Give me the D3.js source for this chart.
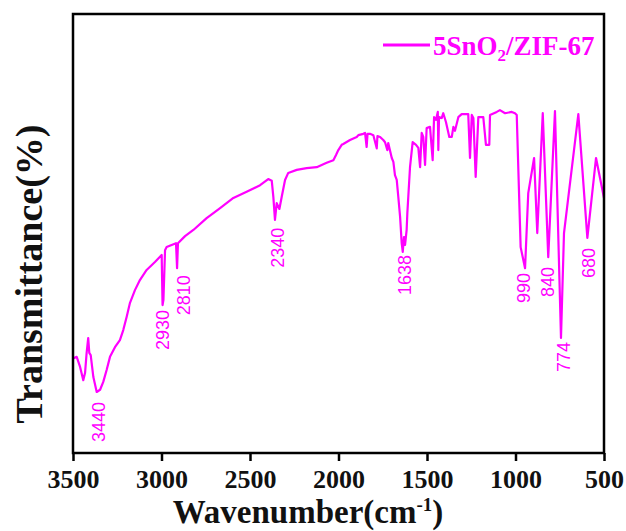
<!DOCTYPE html>
<html>
<head>
<meta charset="utf-8">
<script src="https://cdn.jsdelivr.net/npm/d3@7"></script>
<style>
  body { margin: 0; background: #fff; }
  svg { display: block; }
</style>
</head>
<body>
<svg id="chart" width="626" height="531"></svg>
<script>
// Spectrum (wavenumber, transmittance in arbitrary %)
const wavenumber = [3497, 3479, 3460, 3442, 3432, 3423, 3414, 3408, 3400, 3385, 3366, 3347, 3329, 3310, 3291,
    3263, 3235, 3216, 3197, 3178, 3150, 3122, 3084, 3037, 2999, 2994, 2989, 2980, 2971, 2918, 2912, 2907,
    2867, 2820, 2745, 2669, 2594, 2519, 2443, 2397, 2377, 2368, 2359, 2349, 2334, 2321, 2302, 2284, 2236,
    2180, 2123, 2067, 2029, 2014, 2001, 1982, 1973, 1935, 1897, 1888, 1860, 1850, 1841, 1836, 1822, 1803,
    1784, 1780, 1765, 1747, 1737, 1724, 1719, 1699, 1690, 1681, 1671, 1662, 1652, 1643, 1637, 1630, 1624,
    1615, 1611, 1596, 1581, 1562, 1549, 1539, 1530, 1521, 1511, 1502, 1483, 1468, 1460, 1449, 1439, 1436,
    1432, 1417, 1408, 1393, 1374, 1360, 1351, 1342, 1323, 1304, 1267, 1257, 1247, 1238, 1225, 1210, 1182,
    1167, 1148, 1144, 1106, 1088, 1059, 1021, 1003, 993, 971, 946, 928, 895, 877, 846, 815, 777, 743, 726,
    645, 594, 545, 500];
const transmittance = [21.6, 21.9, 19.6, 16.6, 18.2, 22.8, 26.2, 22.8, 22.3, 17.3, 13.9, 14.4, 16.2, 18.9, 21.9,
    24.1, 25.7, 28.0, 31.0, 34.2, 37.1, 39.4, 41.7, 43.5, 45.1, 33.7, 34.9, 46.2, 46.9, 47.8, 42.1, 47.8,
    49.4, 50.8, 53.5, 55.8, 58.1, 59.5, 61.0, 62.4, 62.0, 58.3, 53.1, 56.9, 55.6, 58.3, 62.2, 63.8, 64.5,
    64.9, 65.1, 66.1, 66.7, 67.9, 69.0, 70.2, 70.4, 71.3, 72.0, 72.4, 72.7, 72.9, 69.7, 72.7, 72.7, 72.4,
    69.4, 72.2, 72.0, 71.3, 70.8, 69.0, 70.6, 67.2, 66.3, 63.3, 62.2, 58.3, 53.8, 47.8, 45.8, 49.2, 47.4,
    50.8, 54.7, 65.1, 70.8, 70.2, 69.5, 65.1, 72.9, 72.0, 65.6, 74.0, 74.3, 66.7, 76.5, 75.9, 77.7, 69.0,
    76.5, 76.3, 77.4, 75.4, 72.0, 72.0, 74.3, 73.4, 76.5, 77.2, 77.2, 67.2, 77.0, 76.3, 62.9, 76.5, 76.5,
    70.2, 70.2, 77.0, 77.7, 78.1, 77.4, 77.7, 77.4, 77.0, 46.9, 42.1, 59.2, 67.2, 50.1, 77.4, 44.6, 77.9, 26.2, 50.1,
    77.2, 49.0, 67.2, 58.1];

// Peak annotations: label text and where it sits (wavenumber of label, transmittance at its top end)
const peakLabels = ["3440", "2930", "2810", "2340", "1638", "990", "840", "774", "680"];
const peakAtWn = [3357, 2997, 2878, 2347, 1627, 952, 819, 726, 585];
const peakAtT = [11.6, 32.6, 40.5, 51.3, 45.1, 41.0, 42.4, 25.3, 46.7];

const xTicks = [3500, 3000, 2500, 2000, 1500, 1000, 500];
const seriesName = "5SnO2/ZIF-67";

const MAGENTA = "#ff00ff";

const svg = d3.select("#chart");
const margin = { top: 14, right: 22, bottom: 78, left: 73 };
const width = 626 - margin.left - margin.right;
const height = 531 - margin.top - margin.bottom;

const g = svg.append("g").attr("transform", `translate(${margin.left},${margin.top})`);

const x = d3.scaleLinear().domain([3500, 500]).range([0, width]);
const y = d3.scaleLinear().domain([0, 100]).range([height, 0]);

const data = wavenumber.map((w, i) => ({ w: w, t: transmittance[i] }));

// curve
const line = d3.line().x(d => x(d.w)).y(d => y(d.t));
g.append("path")
    .datum(data)
    .attr("fill", "none")
    .attr("stroke", MAGENTA)
    .attr("stroke-width", 2.2)
    .attr("stroke-linejoin", "round")
    .attr("d", line);

// peak labels
g.selectAll("text.peak")
    .data(peakLabels)
    .enter().append("text")
    .attr("class", "peak")
    .attr("transform", (d, i) => `translate(${x(peakAtWn[i]) + 6.5},${y(peakAtT[i])}) rotate(-90)`)
    .attr("text-anchor", "end")
    .style("font-family", "'Liberation Sans', Arial, sans-serif")
    .style("font-size", "18px")
    .style("fill", MAGENTA)
    .text(d => d);

// frame
g.append("rect")
    .attr("width", width)
    .attr("height", height)
    .attr("fill", "none")
    .attr("stroke", "#000")
    .attr("stroke-width", 2.5);

// x axis
const xAxis = g.append("g")
    .attr("transform", `translate(0,${height})`)
    .call(d3.axisBottom(x).tickValues(xTicks).tickSize(8).tickPadding(9).tickFormat(d3.format("d")));
xAxis.select(".domain").remove();
xAxis.selectAll(".tick line").attr("stroke", "#000").attr("stroke-width", 2.5);
xAxis.selectAll(".tick text")
    .style("font-family", "'Liberation Serif', 'Times New Roman', serif")
    .style("font-weight", "bold")
    .style("font-size", "26px")
    .style("fill", "#111");

// axis titles
const xt = svg.append("text")
    .attr("x", 308)
    .attr("y", 523)
    .attr("text-anchor", "middle")
    .style("font-family", "'Liberation Serif', 'Times New Roman', serif")
    .style("font-weight", "bold")
    .style("font-size", "33px")
    .style("fill", "#111");
xt.append("tspan").text("Wavenumber(cm");
xt.append("tspan").attr("dy", -12).style("font-size", "19px").text("-1");
xt.append("tspan").attr("dy", 12).text(")");

svg.append("text")
    .attr("transform", "translate(42,274) rotate(-90)")
    .attr("text-anchor", "middle")
    .style("font-family", "'Liberation Serif', 'Times New Roman', serif")
    .style("font-weight", "bold")
    .style("font-size", "38px")
    .style("fill", "#111")
    .text("Transmittance(%)");

// legend
const legend = svg.append("g");
legend.append("line")
    .attr("x1", 383).attr("x2", 430)
    .attr("y1", 45).attr("y2", 45)
    .attr("stroke", MAGENTA)
    .attr("stroke-width", 3);
const lt = legend.append("text")
    .attr("x", 433)
    .attr("y", 55)
    .style("font-family", "'Liberation Serif', 'Times New Roman', serif")
    .style("font-weight", "bold")
    .style("font-size", "27px")
    .style("fill", MAGENTA);
lt.append("tspan").text(seriesName.slice(0, 4));
lt.append("tspan").attr("dy", 6).style("font-size", "17px").text(seriesName.slice(4, 5));
lt.append("tspan").attr("dy", -6).text(seriesName.slice(5));
</script>
</body>
</html>
